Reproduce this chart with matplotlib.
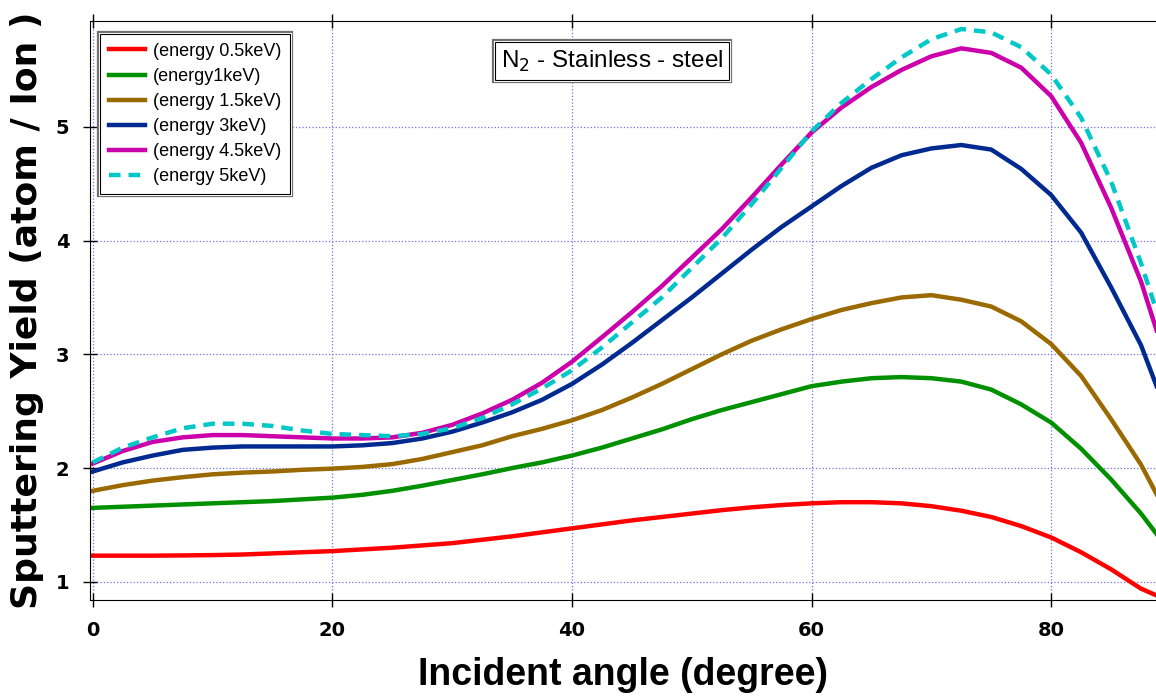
import matplotlib
matplotlib.use("Agg")
import matplotlib.pyplot as plt
import matplotlib.patheffects as pe

plt.rcParams['font.family'] = ['Liberation Sans', 'DejaVu Sans']

# incident angle (degree)
angle = [0, 2.5, 5, 7.5, 10, 12.5, 15, 17.5, 20, 22.5, 25, 27.5, 30, 32.5, 35,
         37.5, 40, 42.5, 45, 47.5, 50, 52.5, 55, 57.5, 60, 62.5, 65, 67.5, 70,
         72.5, 75, 77.5, 80, 82.5, 85, 87.5, 88.8]

# sputtering yield (atom / ion)
e05 = [1.23, 1.23, 1.23, 1.232, 1.235, 1.24, 1.25, 1.26, 1.27, 1.285, 1.30,
       1.32, 1.34, 1.37, 1.40, 1.435, 1.47, 1.505, 1.54, 1.57, 1.60, 1.63,
       1.655, 1.675, 1.69, 1.70, 1.70, 1.69, 1.665, 1.625, 1.57, 1.49, 1.39,
       1.26, 1.11, 0.94, 0.88]
e1 = [1.65, 1.66, 1.67, 1.68, 1.69, 1.70, 1.71, 1.725, 1.74, 1.765, 1.80,
      1.845, 1.895, 1.945, 2.00, 2.05, 2.11, 2.18, 2.26, 2.34, 2.43, 2.51,
      2.58, 2.65, 2.72, 2.76, 2.79, 2.80, 2.79, 2.76, 2.69, 2.56, 2.40, 2.17,
      1.90, 1.60, 1.42]
e15 = [1.80, 1.85, 1.89, 1.92, 1.945, 1.96, 1.97, 1.985, 1.995, 2.01, 2.035,
       2.08, 2.14, 2.20, 2.28, 2.345, 2.42, 2.51, 2.62, 2.74, 2.87, 3.00,
       3.12, 3.22, 3.31, 3.39, 3.45, 3.50, 3.52, 3.48, 3.42, 3.29, 3.09, 2.81,
       2.43, 2.03, 1.77]
e3 = [1.97, 2.05, 2.11, 2.16, 2.18, 2.19, 2.19, 2.19, 2.19, 2.20, 2.22, 2.26,
      2.32, 2.40, 2.49, 2.60, 2.74, 2.91, 3.10, 3.30, 3.50, 3.71, 3.92, 4.12,
      4.30, 4.48, 4.64, 4.75, 4.81, 4.84, 4.80, 4.63, 4.40, 4.07, 3.59, 3.08,
      2.72]
e45 = [2.04, 2.15, 2.23, 2.27, 2.29, 2.29, 2.28, 2.27, 2.26, 2.26, 2.27, 2.31,
       2.38, 2.48, 2.60, 2.75, 2.935, 3.15, 3.37, 3.60, 3.85, 4.10, 4.38, 4.67,
       4.95, 5.17, 5.35, 5.50, 5.62, 5.69, 5.65, 5.52, 5.27, 4.86, 4.29, 3.64,
       3.21]
e5 = [2.05, 2.18, 2.27, 2.35, 2.39, 2.39, 2.37, 2.33, 2.30, 2.29, 2.28, 2.30,
      2.35, 2.44, 2.56, 2.70, 2.86, 3.06, 3.28, 3.50, 3.76, 4.02, 4.32, 4.64,
      4.96, 5.21, 5.42, 5.61, 5.77, 5.86, 5.83, 5.70, 5.46, 5.08, 4.52, 3.80,
      3.38]

labels = ['(energy 0.5keV)', '(energy1keV)', '(energy 1.5keV)',
          '(energy 3keV)', '(energy 4.5keV)', '(energy 5keV)']
colors = ['#ff0000', '#009000', '#9a6a00', '#002a90', '#cc00aa', '#00c8c8']

# double frame like the original boxes
double = [pe.Stroke(linewidth=4.5, foreground='#707070'),
          pe.Stroke(linewidth=2.2, foreground='white'),
          pe.Normal()]

fig = plt.figure(figsize=(11.56, 6.99), dpi=100)
ax = fig.add_axes([0.0779, 0.1416, 0.9221, 0.8283])

series = [e05, e1, e15, e3, e45, e5]
for ys, lab, c in zip(series, labels, colors):
    if lab == '(energy 5keV)':
        ax.plot(angle, ys, color=c, lw=3.2, ls=(0, (2.6, 1.8)), label=lab)
    else:
        ax.plot(angle, ys, color=c, lw=3.2, label=lab)

ax.set_xlim(-0.23, 88.75)
ax.set_ylim(0.84, 5.93)
ax.set_xticks([0, 20, 40, 60, 80])
ax.set_yticks([1, 2, 3, 4, 5])
ax.grid(True, color='#7070ee', ls=':', lw=0.9)
ax.spines['right'].set_visible(False)
ax.tick_params(direction='inout', length=10, width=1, pad=10, top=True)
for t in ax.get_xticklabels() + ax.get_yticklabels():
    t.set_fontweight('bold')
    t.set_fontsize(14)
    t.set_family(['DejaVu Sans'])

ax.set_xlabel('Incident angle (degree)', fontsize=27, fontweight='bold',
              family=['Liberation Sans Narrow', 'Liberation Sans'], labelpad=12)
ax.set_ylabel('Sputtering Yield (atom / Ion )', fontsize=26, fontweight='bold',
              family=['DejaVu Sans'], labelpad=8)

leg = ax.legend(loc='upper left', bbox_to_anchor=(0.0095, 0.978), fontsize=13,
                handlelength=2.0, handletextpad=0.4, labelspacing=0.45,
                borderaxespad=0, fancybox=False, framealpha=1, borderpad=0.5)
leg.get_frame().set_edgecolor('black')
leg.get_frame().set_linewidth(0.8)
leg.get_frame().set_path_effects(double)

ttl = ax.text(0.4897, 0.931, r'N$_2$ - Stainless - steel', transform=ax.transAxes,
              fontsize=17.5, ha='center', va='center',
              bbox=dict(boxstyle='square,pad=0.25', fc='white', ec='black', lw=0.8))
ttl.get_bbox_patch().set_path_effects(double)

fig.savefig('out.png', dpi=100)
